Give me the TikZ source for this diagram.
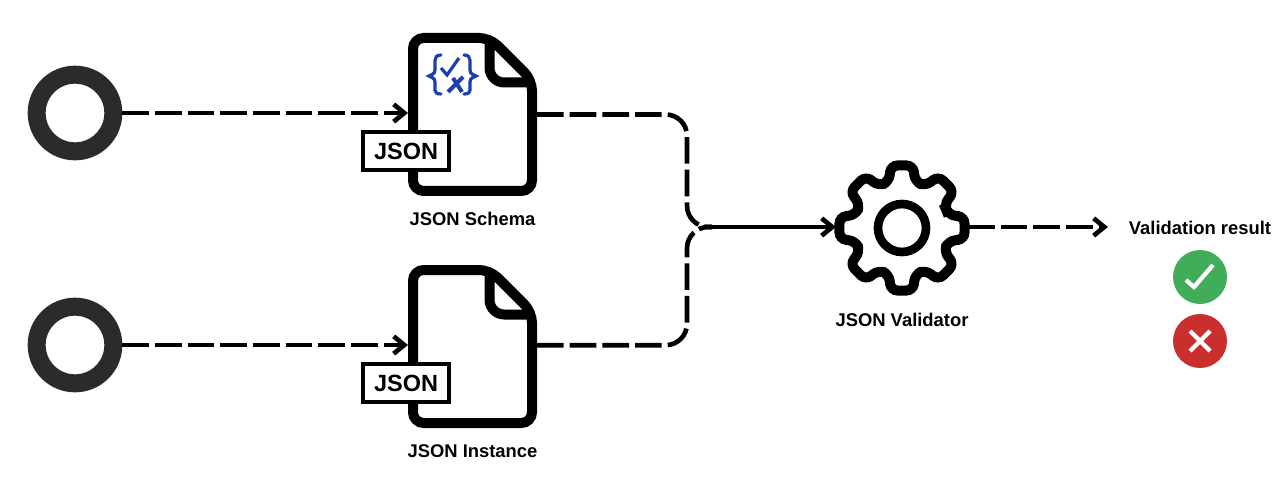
\documentclass[tikz,border=0pt]{standalone}
\usepackage{fontspec}
\setmainfont{Liberation Sans}
\usetikzlibrary{positioning, arrows.meta}
\definecolor{ringgray}{HTML}{2B2B2B}
\definecolor{iconblue}{HTML}{1B3FAF}
\definecolor{okgreen}{HTML}{41AD5A}
\definecolor{badred}{HTML}{C92F2D}
\tikzset{
    source/.style={circle, draw=ringgray, line width=13.5pt, minimum size=57.5pt, inner sep=0pt},
    link/.style={line width=3.5pt, dash pattern=on 20pt off 4.5pt},
    tip/.style={-{Straight Barb[length=8pt,width=13pt]}},
    label/.style={font=\bfseries\fontsize{13.8}{16}\selectfont, text=black},
    result/.style={circle, fill=#1, minimum size=40.5pt, inner sep=0pt},
    tag/.style={draw=black, fill=white, line width=3.4pt, minimum width=64.5pt, minimum height=28.5pt,
        inner sep=0pt, font=\bfseries\fontsize{17.6}{20}\selectfont},
    docfile/.pic={
        \node[minimum width=96.75pt, minimum height=122.25pt, inner sep=0pt, outer sep=0pt] (-body) at (0,0) {};
        \draw[line width=7.5pt, rounded corners=8pt, fill=white] (-59.5,-76.5) -- (17.5,-76.5) -- (59.5,-34.5) -- (59.5,76.5) -- (-59.5,76.5) -- cycle;
        \draw[line width=7.5pt, rounded corners=11pt] (17,-76.5) -- (17,-32) -- (59.5,-32);
        \node[tag] (-tag) at (-66.5,36.5) {JSON};
    }
}

\begin{document}
\begin{tikzpicture}[x=0.75pt, y=-0.75pt]
    \useasboundingbox (0,0) rectangle (1287,488);

    % Sources and documents
    \node[source] (srcA) at (75,113) {};
    \node[source] (srcB) at (75,345) {};
    \pic (schema) at (472.5,114.5) {docfile};
    \pic (instance) at (472.5,346.5) {docfile};
    \node[label, below=8.8pt of schema-body] (schemaText) {JSON Schema};
    \node[label, below=8.8pt of instance-body] (instanceText) {JSON Instance};

    % Blue icon on the schema
    \draw[iconblue, line width=2.4pt, line cap=round] (441,55) .. controls (432,55) and (436,64) .. (435,70) .. controls (435,74) and (431,75) .. (429,76) .. controls (431,77) and (435,78) .. (435,82) .. controls (436,88) and (432,94) .. (441,94);
    \draw[iconblue, line width=2.4pt, line cap=round] (464,55) .. controls (473,55) and (469,64) .. (470,70) .. controls (470,74) and (474,75) .. (476,76) .. controls (474,77) and (470,78) .. (470,82) .. controls (469,88) and (473,94) .. (464,94);
    \draw[iconblue, line width=2.4pt] (441,68) -- (447,75) -- (459,58);
    \draw[iconblue, line width=3pt] (448,92) -- (463,77) (453,78) -- (462,92);

    % Validator gear
    \node[circle, minimum size=99pt, inner sep=0pt, outer sep=0pt] (validator) at (902,228) {};
    \draw[line width=7.5pt, rounded corners=5pt, shift={(902,228)}] (-22.5:48)
        \foreach \a in {0,45,...,315} { -- (\a-16:48) -- (\a-10:63.5) -- (\a+10:63.5) -- (\a+16:48) } -- cycle;
    \draw[line width=6.5pt] (validator.center) circle (24);
    \node[label, below=10.5pt of validator] (validatorText) {JSON Validator};

    % Result
    \coordinate (resultEnd) at (1108,227);
    \node[label] (resultText) at (1200,228) {Validation result};
    \node[result=okgreen] (okMark) at (1200,277) {};
    \node[result=badred] (badMark) at (1200,341) {};
    \draw[white, line width=3.2pt] ([shift={(-14,3)}]okMark.center) -- ([shift={(-6,10)}]okMark.center) -- ([shift={(13,-12)}]okMark.center);
    \draw[white, line width=3.2pt] ([shift={(-10,-10)}]badMark.center) -- ([shift={(10,10)}]badMark.center);
    \draw[white, line width=3.2pt] ([shift={(-10,10)}]badMark.center) -- ([shift={(10,-10)}]badMark.center);

    % Connectors
    \coordinate (bus) at (687,227);
    \coordinate (merge) at (712,227);
    \draw[link, tip] (srcA.east) -- (srcA.east -| schema-body.west);
    \draw[link, tip] (srcB.east) -- (srcB.east -| instance-body.west);
    \draw[link, rounded corners=16pt] (schema-body.east) -| (bus) -- (merge);
    \draw[link, rounded corners=16pt] ([yshift=1pt]instance-body.east) -| (bus) -- (merge);
    \draw[line width=3.5pt, tip] (merge) -- (validator.west |- merge);
    \draw[link, tip] (validator.east |- resultEnd) -- (resultEnd);
\end{tikzpicture}
\end{document}
